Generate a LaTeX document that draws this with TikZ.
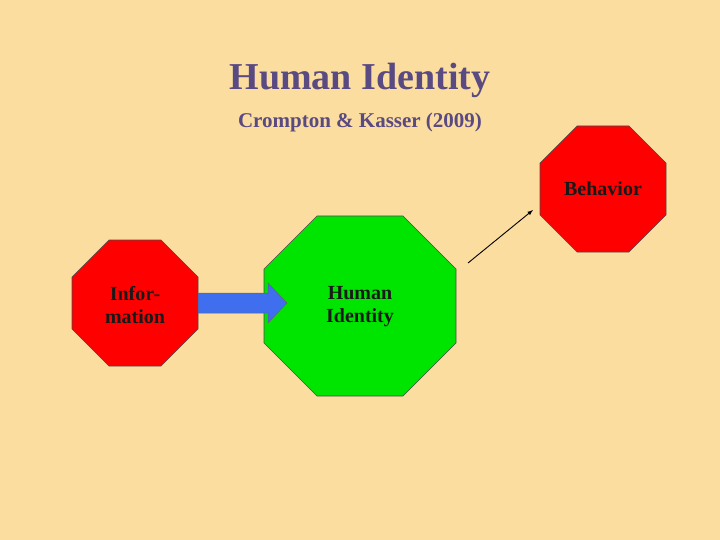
\documentclass[tikz,border=0pt]{standalone}
\usepackage{fontspec}
\setmainfont{Liberation Serif}
\begin{document}
\begin{tikzpicture}[x=1pt,y=-1pt,
  oct/.style={draw=black!70,line width=0.6pt},
  lbl/.style={font=\bfseries\fontsize{20}{23}\selectfont,align=center,text=black!90}]
\definecolor{bg}{HTML}{FCDDA0}
\definecolor{ttl}{HTML}{5A4A82}
\definecolor{arr}{HTML}{3F6FEF}
\useasboundingbox (0,0) rectangle (720,540);
\fill[bg] (0,0) rectangle (720,540);
\node[text=ttl,font=\bfseries\fontsize{38}{40}\selectfont] (title) at (360,80) {Human Identity};
\node[text=ttl,font=\bfseries\fontsize{21}{24}\selectfont] (sub) at (360,122) {Crompton \& Kasser (2009)};
% octagons
\newcommand\octa[6]{\filldraw[oct,fill=#6] (#1+#5,#2) -- (#3-#5,#2) -- (#3,#2+#5) -- (#3,#4-#5) -- (#3-#5,#4) -- (#1+#5,#4) -- (#1,#4-#5) -- (#1,#2+#5) -- cycle;}
\octa{72}{240}{198}{366}{37}{red}
\octa{540}{126}{666}{252}{37}{red}
\octa{264}{216}{456}{396}{53}{green!90!black}
\node[lbl,minimum width=126pt,minimum height=126pt,inner sep=0] (info) at (135,303) {};
\node[lbl] at (135,305) {Infor-\\mation};
\node[lbl,inner sep=0,minimum width=192pt,minimum height=180pt] (hum) at (360,306) {};
\node[lbl] at (360,307) {Human\\Identity};
\node[lbl,minimum width=126pt,minimum height=126pt,inner sep=0] (beh) at (603,189) {};
\node[lbl] at (603,189) {Behavior};
% blue arrow
\filldraw[fill=arr,draw=black!60,line width=0.5pt] (info.east |- 0,293) -- (268,293) -- (268,283) -- (287,303) -- (268,323) -- (268,313) -- (info.east |- 0,313) -- cycle;
\coordinate (ls) at (468,263);
\coordinate (le) at (533,210);
\draw[-latex,line width=0.9pt] (ls) -- (le);
\end{tikzpicture}
\end{document}
